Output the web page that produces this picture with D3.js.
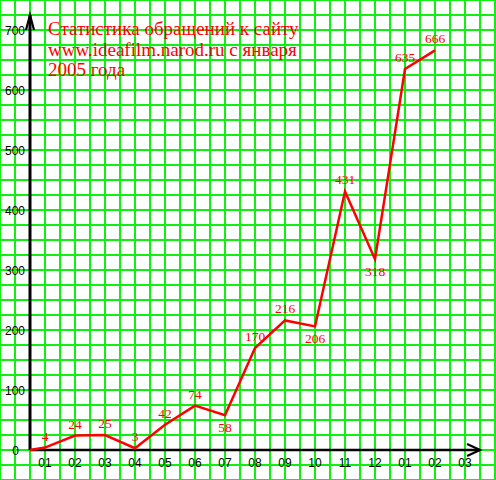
<!DOCTYPE html>
<html>
<head>
<meta charset="utf-8">
<script src="https://cdn.jsdelivr.net/npm/d3@7"></script>
<style>
html,body{margin:0;padding:0;background:#fff;}
svg{display:block;}
</style>
</head>
<body>
<svg id="c" width="496" height="480"></svg>
<script>
// ---- data ----
const titleLines = ["Статистика обращений к сайту", "www.ideafilm.narod.ru с января", "2005 года"];
const monthLabels = ["01","02","03","04","05","06","07","08","09","10","11","12","01","02","03"];
const visits = [4, 24, 25, 3, 42, 74, 58, 170, 216, 206, 431, 318, 635, 666];
const yTicks = [0, 100, 200, 300, 400, 500, 600, 700];
const labelsBelow = [6, 9, 11]; // indices of visits whose labels sit under the line

const W = 496, H = 480;
const svg = d3.select("#c");
const x = d3.scaleLinear().domain([0.5, 15.5]).range([30, 480]);
const y = d3.scaleLinear().domain([0, 700]).range([450, 30]);

// background
svg.append("rect").attr("width", W).attr("height", H).attr("fill", "#fff");

// grid (half-month / 25-unit cells)
const gridColor = "#11ee11";
const gx = d3.range(-0.5, 16.01, 0.5);
const gy = d3.range(-50, 751, 25);
svg.append("g").selectAll("rect").data(gx).join("rect")
  .attr("x", d => x(d) - 1).attr("y", 0).attr("width", 2).attr("height", H)
  .attr("fill", gridColor);
svg.append("g").selectAll("rect").data(gy).join("rect")
  .attr("x", 0).attr("y", d => y(d) - 1).attr("width", W).attr("height", 2)
  .attr("fill", gridColor);

// axes
const ax = svg.append("g").attr("stroke", "#000").attr("fill", "none");
ax.append("line").attr("x1", x(0.5)).attr("x2", x(0.5)).attr("y1", y(0)).attr("y2", y(725))
  .attr("stroke-width", 3);
ax.append("line").attr("x1", x(0.5)).attr("x2", x(15.5)).attr("y1", y(0)).attr("y2", y(0))
  .attr("stroke-width", 2.5);
// arrow heads
ax.append("path").attr("stroke-width", 2.2)
  .attr("d", `M${x(0.5)-4},${y(700)} L${x(0.5)},${y(725)} L${x(0.5)+4},${y(700)}`);
ax.append("path").attr("stroke-width", 2.2)
  .attr("d", `M${x(15.07)},${y(0)-6} L${x(15.5)},${y(0)} L${x(15.07)},${y(0)+6}`);

// y tick labels
svg.append("g").selectAll("text").data(yTicks).join("text")
  .attr("x", d => d === 0 ? 19 : 25)
  .attr("y", d => y(d) + 5)
  .attr("text-anchor", "end")
  .attr("font-family", "Liberation Sans, Arial, sans-serif")
  .attr("font-size", 12)
  .attr("fill", "#000")
  .text(d => d);

// x month labels
svg.append("g").selectAll("text").data(monthLabels).join("text")
  .attr("x", (d, i) => x(i + 1))
  .attr("y", 467)
  .attr("text-anchor", "middle")
  .attr("font-family", "Liberation Sans, Arial, sans-serif")
  .attr("font-size", 12)
  .attr("fill", "#000")
  .text(d => d);

// data line (starts from axis origin)
const pts = [[0.5, 0]].concat(visits.map((v, i) => [i + 1, v]));
const line = d3.line().x(d => x(d[0])).y(d => y(d[1]));
svg.append("path").datum(pts)
  .attr("d", line)
  .attr("fill", "none")
  .attr("stroke", "#ff0000")
  .attr("stroke-width", 2.5)
  .attr("stroke-linejoin", "miter");

// value labels
svg.append("g").selectAll("text").data(visits).join("text")
  .attr("x", (d, i) => x(i + 1))
  .attr("y", (d, i) => labelsBelow.includes(i) ? y(d) + 17 : y(d) - 7)
  .attr("text-anchor", "middle")
  .attr("font-family", "Liberation Serif, Times New Roman, serif")
  .attr("font-size", 13.5)
  .attr("fill", "#ff0000")
  .text(d => d);

// title
svg.append("g").selectAll("text").data(titleLines).join("text")
  .attr("x", 48)
  .attr("y", (d, i) => 35 + i * 20.5)
  .attr("font-family", "Liberation Serif, Times New Roman, serif")
  .attr("font-size", 19)
  .attr("fill", "#ff0000")
  .text(d => d);
</script>
</body>
</html>
